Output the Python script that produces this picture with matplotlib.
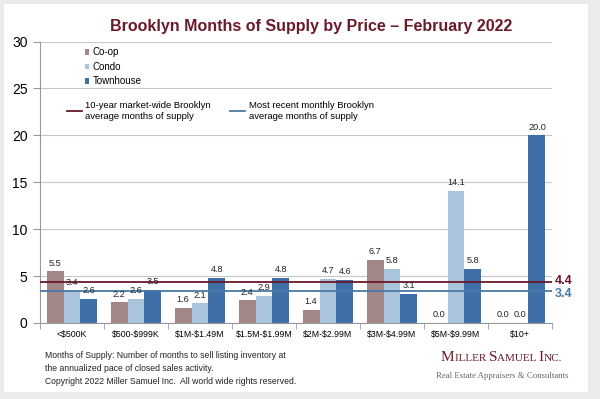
import numpy as np
import matplotlib.pyplot as plt
from matplotlib.patches import Rectangle
from matplotlib.lines import Line2D

plt.rcParams['font.family'] = ['Liberation Sans', 'DejaVu Sans']

# price bands and months of supply
price_bands = ['<$500K', '$500-$999K', '$1M-$1.49M', '$1.5M-$1.99M',
               '$2M-$2.99M', '$3M-$4.99M', '$5M-$9.99M', '$10+']
coop = [5.5, 2.2, 1.6, 2.4, 1.4, 6.7, 0.0, 0.0]
condo = [3.4, 2.6, 2.1, 2.9, 4.7, 5.8, 14.1, 0.0]
townhouse = [2.6, 3.5, 4.8, 4.8, 4.6, 3.1, 5.8, 20.0]
avg_10yr = 4.4
avg_recent = 3.4

c_coop = '#a38787'
c_condo = '#a9c5de'
c_town = '#3f6fa8'
c_red = '#6b1626'
c_blue = '#4a79a8'
maroon = '#6b1a2a'

fig = plt.figure(figsize=(6, 3.99), dpi=100)
fig.patch.set_facecolor('#ebebeb')
fig.patches.append(Rectangle((4/600, 1-392/399), 584/600, 388/399,
                             transform=fig.transFigure, facecolor='white',
                             edgecolor='none', zorder=-5))

ax = fig.add_axes([40/600, 1-323/399, 512/600, 281.5/399])
ax.set_facecolor('none')

x = np.arange(len(price_bands))
w = 0.265
for off, vals, col, lab in [(-w, coop, c_coop, 'Co-op'),
                            (0, condo, c_condo, 'Condo'),
                            (w, townhouse, c_town, 'Townhouse')]:
    bars = ax.bar(x + off, vals, w, color=col, label=lab, zorder=2)
    for b, v in zip(bars, vals):
        ax.text(b.get_x() + b.get_width()/2, v + 0.4, f'{v:.1f}',
                ha='center', va='bottom', fontsize=6.6, color='#222222', zorder=4)

ax.axhline(avg_10yr, color=c_red, lw=1.3, zorder=3)
ax.axhline(avg_recent, color=c_blue, lw=1.3, zorder=3)
ax.text(1.005, avg_10yr + 0.1, f'{avg_10yr}', transform=ax.get_yaxis_transform(),
        color=c_red, fontsize=9, fontweight='bold', va='center')
ax.text(1.005, avg_recent - 0.3, f'{avg_recent}', transform=ax.get_yaxis_transform(),
        color=c_blue, fontsize=9, fontweight='bold', va='center')

ax.set_xlim(-0.5, len(price_bands) - 0.5)
ax.set_ylim(0, 30)
ax.set_yticks([0, 5, 10, 15, 20, 25, 30])
ax.yaxis.grid(True, color='#c8c8c8', lw=0.8, zorder=0)
ax.set_xticks(x)
ax.set_xticklabels([p.replace('$', r'\$') for p in price_bands], fontsize=6.3)
ax.set_xticks(np.arange(-0.5, len(price_bands)), minor=True)
ax.tick_params(axis='x', which='major', length=0, pad=5)
ax.tick_params(axis='x', which='minor', length=4, color='#999999')
ax.tick_params(axis='y', labelsize=10, length=5, color='#999999', pad=4)
for s in ['top', 'right']:
    ax.spines[s].set_visible(False)
ax.spines['left'].set_color('#999999')
ax.spines['bottom'].set_color('#999999')

ax.legend(loc='upper left', bbox_to_anchor=(0.07, 1.01), frameon=False,
          fontsize=7, handlelength=0.5, handleheight=0.5, handletextpad=0.3,
          labelspacing=0.45)

h1 = Line2D([], [], color=c_red, lw=1.3)
h2 = Line2D([], [], color=c_blue, lw=1.3)
fig.legend([h1, h2], ['10-year market-wide Brooklyn\naverage months of supply',
                      'Most recent monthly Brooklyn\naverage months of supply'],
           loc='center left', bbox_to_anchor=(58/600, 1-111/399), ncol=2,
           frameon=False, fontsize=6.8, handlelength=1.6, handletextpad=0.4,
           columnspacing=2.0)

fig.text(311/600, 1-27/399, 'Brooklyn Months of Supply by Price \u2013 February 2022',
         ha='center', va='center', fontsize=11.5, fontweight='bold', color=maroon)

fig.text(45/600, 1-362/399, 'Months of Supply: Number of months to sell listing inventory at\n'
         'the annualized pace of closed sales activity.', fontsize=6.2,
         va='center', linespacing=1.45, color='#222222')
fig.text(45/600, 1-381/399, 'Copyright 2022 Miller Samuel Inc.  All world wide rights reserved.',
         fontsize=6.2, va='center', color='#222222')

# small-caps logo, built piece by piece
serif = ['Liberation Serif', 'DejaVu Serif']
xpos = 441/600
fig.canvas.draw()
r = fig.canvas.get_renderer()
for part, size in [('M', 11), ('ILLER ', 8), ('S', 11), ('AMUEL ', 8),
                   ('I', 11), ('NC.', 8)]:
    t = fig.text(xpos, 1-361/399, part, family=serif, fontsize=size,
                 color=maroon, va='baseline')
    bb = t.get_window_extent(renderer=r)
    xpos += bb.width / fig.bbox.width
fig.text(502/600, 1-376/399, 'Real Estate Appraisers & Consultants', family=serif,
         fontsize=6.3, va='center', ha='center', color='#666666')

fig.savefig('out.png', dpi=100, facecolor=fig.get_facecolor())
